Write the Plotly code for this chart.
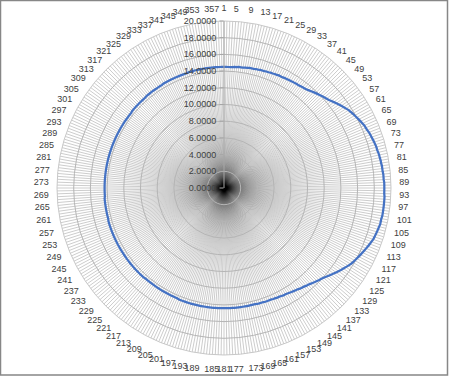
import plotly.graph_objects as go

# Categories 1..360 (one per degree)
categories = list(range(1, 361))

# Series values, one per category
values = [
    14.50, 14.50, 14.50, 14.50, 14.50, 14.55, 14.55, 14.60, 14.60, 14.60,
    14.65, 14.65, 14.70, 14.70, 14.70, 14.75, 14.75, 14.80, 14.80, 14.80,
    14.85, 14.85, 14.90, 14.90, 14.95, 14.95, 15.00, 15.00, 15.00, 15.05,
    15.05, 15.10, 15.10, 15.15, 15.15, 15.20, 15.20, 15.25, 15.30, 15.35,
    15.40, 15.50, 15.60, 15.70, 15.80, 15.90, 16.00, 16.10, 16.20, 16.30,
    16.40, 16.55, 16.70, 16.85, 17.00, 17.15, 17.30, 17.45, 17.60, 17.70,
    17.80, 17.90, 18.00, 18.10, 18.20, 18.30, 18.40, 18.45, 18.50, 18.60,
    18.65, 18.70, 18.75, 18.80, 18.85, 18.90, 18.90, 18.95, 19.00, 19.00,
    19.05, 19.05, 19.10, 19.10, 19.10, 19.15, 19.15, 19.15, 19.20, 19.20,
    19.20, 19.20, 19.20, 19.25, 19.25, 19.25, 19.25, 19.25, 19.25, 19.25,
    19.25, 19.20, 19.20, 19.20, 19.15, 19.10, 19.05, 19.00, 18.95, 18.90,
    18.80, 18.70, 18.60, 18.50, 18.40, 18.30, 18.20, 18.10, 18.00, 17.90,
    17.80, 17.70, 17.55, 17.40, 17.25, 17.10, 16.95, 16.80, 16.65, 16.50,
    16.35, 16.20, 16.05, 15.95, 15.85, 15.75, 15.65, 15.55, 15.45, 15.35,
    15.30, 15.20, 15.15, 15.10, 15.00, 14.95, 14.90, 14.85, 14.80, 14.75,
    14.70, 14.70, 14.65, 14.60, 14.60, 14.55, 14.55, 14.50, 14.50, 14.50,
    14.50, 14.45, 14.45, 14.45, 14.45, 14.40, 14.40, 14.40, 14.40, 14.40,
    14.40, 14.40, 14.40, 14.40, 14.40, 14.40, 14.40, 14.40, 14.40, 14.40,
    14.40, 14.40, 14.40, 14.40, 14.40, 14.40, 14.40, 14.40, 14.40, 14.40,
    14.40, 14.40, 14.40, 14.40, 14.40, 14.40, 14.40, 14.40, 14.40, 14.40,
    14.40, 14.40, 14.40, 14.35, 14.35, 14.35, 14.35, 14.35, 14.35, 14.35,
    14.35, 14.35, 14.35, 14.35, 14.35, 14.35, 14.35, 14.35, 14.35, 14.35,
    14.35, 14.35, 14.40, 14.40, 14.40, 14.40, 14.40, 14.40, 14.40, 14.40,
    14.40, 14.40, 14.40, 14.40, 14.40, 14.40, 14.40, 14.40, 14.40, 14.40,
    14.40, 14.40, 14.40, 14.40, 14.40, 14.40, 14.40, 14.40, 14.40, 14.40,
    14.40, 14.40, 14.40, 14.40, 14.40, 14.35, 14.35, 14.35, 14.35, 14.35,
    14.35, 14.35, 14.35, 14.35, 14.35, 14.35, 14.30, 14.30, 14.30, 14.30,
    14.30, 14.30, 14.30, 14.30, 14.30, 14.30, 14.30, 14.30, 14.30, 14.30,
    14.30, 14.30, 14.30, 14.30, 14.30, 14.30, 14.30, 14.30, 14.30, 14.30,
    14.30, 14.30, 14.30, 14.30, 14.30, 14.30, 14.30, 14.30, 14.30, 14.30,
    14.30, 14.30, 14.30, 14.30, 14.30, 14.30, 14.30, 14.30, 14.30, 14.30,
    14.35, 14.35, 14.35, 14.35, 14.35, 14.35, 14.35, 14.35, 14.35, 14.35,
    14.40, 14.40, 14.40, 14.40, 14.40, 14.40, 14.40, 14.40, 14.40, 14.40,
    14.45, 14.45, 14.45, 14.45, 14.45, 14.45, 14.45, 14.45, 14.45, 14.45,
    14.45, 14.45, 14.45, 14.50, 14.50, 14.50, 14.50, 14.50, 14.50, 14.50,
    14.50, 14.50, 14.50, 14.50, 14.50, 14.50, 14.50, 14.50, 14.50, 14.50,
]

# Angular tick labels: every 4th category is labelled
tick_labels = [str(c) if (c - 1) % 4 == 0 else "" for c in categories]

# Radial ticks
radial_ticks = [0, 2, 4, 6, 8, 10, 12, 14, 16, 18, 20]

theta = [c - 1 for c in categories]

fig = go.Figure()
fig.add_trace(go.Scatterpolar(
    r=values + [values[0]],
    theta=theta + [theta[0]],
    mode="lines",
    line=dict(color="#4472C4", width=2.25),
    hoverinfo="skip",
    showlegend=False,
))

W, H = 450, 376
cx, cy, R = 224, 188, 167

fig.update_layout(
    width=W, height=H,
    margin=dict(l=0, r=0, t=0, b=0),
    paper_bgcolor="white",
    font=dict(family="Liberation Sans, Arial, sans-serif", size=9, color="#404040"),
    polar=dict(
        domain=dict(x=[(cx - R) / W, (cx + R) / W],
                    y=[(H - cy - R) / H, (H - cy + R) / H]),
        bgcolor="white",
        angularaxis=dict(
            rotation=90,
            direction="clockwise",
            tickmode="array",
            tickvals=theta,
            ticktext=tick_labels,
            ticks="outside",
            ticklen=6,
            tickcolor="rgba(0,0,0,0)",
            showgrid=True,
            gridcolor="rgba(0,0,0,0.2)",
            gridwidth=1,
            showline=True,
            linecolor="#c8c8c8",
            linewidth=1,
            tickfont=dict(size=9, color="#404040"),
        ),
        radialaxis=dict(
            range=[0, 20],
            tickmode="array",
            tickvals=radial_ticks,
            tickformat=".4f",
            angle=90,
            side="counterclockwise",
            tickangle=90,
            ticks="outside",
            ticklen=4,
            tickcolor="#a6a6a6",
            showline=True,
            linecolor="#a6a6a6",
            linewidth=1,
            showgrid=True,
            gridcolor="#b5b5b5",
            gridwidth=1,
            tickfont=dict(size=9, color="#404040"),
        ),
    ),
    shapes=[dict(
        type="rect", xref="paper", yref="paper",
        x0=0.5 / W, x1=447.5 / W, y0=1 - 375 / H, y1=1 - 0.5 / H,
        line=dict(color="#878787", width=1.5),
        fillcolor="rgba(0,0,0,0)",
    )],
)

fig.write_html("out.html")
